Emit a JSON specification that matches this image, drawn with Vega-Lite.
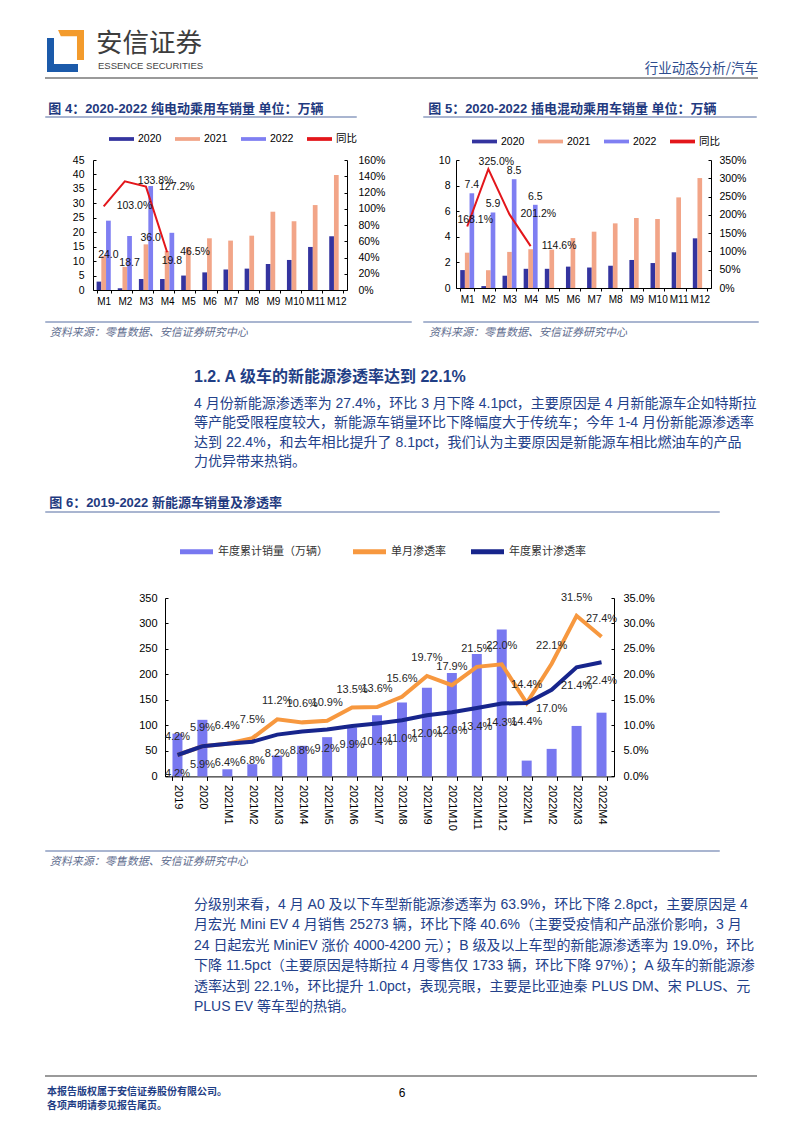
{
"$schema": "https://vega.github.io/schema/vega-lite/v6.json",
"background": "white",
"padding": {"left": 45, "top": 30, "right": 5, "bottom": 5},
"bounds": "flush",
"spacing": 0,
"resolve": {"scale": {"color": "independent", "xOffset": "independent"}, "legend": {"color": "independent"}},
"config": {
  "view": {"stroke": null},
  "concat": {"spacing": 0},
  "axis": {"grid": false, "labelFont": "Liberation Sans", "labelColor": "#000000", "domainColor": "#000000", "tickColor": "#000000", "domainWidth": 1, "tickWidth": 1, "labelOverlap": false},
  "legend": {"labelFont": "Liberation Sans, Noto Sans CJK SC", "labelColor": "#000000"}
},
"vconcat": [
  {"bounds": "flush", "spacing": 0, "hconcat": [
    {"width": 38, "height": 42, "data": {"values": [{}]}, "layer": [
      {"mark": {"type": "point", "shape": "M-0.857,-0.619H-0.524V0.619H0.619V1H-0.857Z", "size": 1764, "filled": true, "color": "#1B5AAA", "strokeWidth": 0, "opacity": 1}, "encoding": {}},
      {"mark": {"type": "point", "shape": "M-0.33,-1H0.905V0.43H0.571V-0.70H-0.2Z", "size": 1764, "filled": true, "color": "#F39B2C", "strokeWidth": 0, "opacity": 1}, "encoding": {}}
    ]},
    {"width": 24, "height": 28, "data": {"values": [{}]}, "layer": [
      {"mark": {"type": "text", "text": "安信证券", "align": "left", "baseline": "middle", "font": "Noto Sans CJK SC", "fontSize": 26.5, "color": "#3d3d3d"}, "encoding": {}},
      {"mark": {"type": "text", "text": "ESSENCE SECURITIES", "align": "left", "baseline": "middle", "dx": 2, "dy": 22, "font": "Liberation Sans Narrow, Liberation Sans", "fontSize": 9.5, "color": "#444444"}, "encoding": {}}
    ]},
    {"width": 646, "height": 1, "data": {"values": []}, "mark": "point", "encoding": {}},
    {"width": 8, "height": 42, "data": {"values": [{}]}, "mark": {"type": "text", "text": "行业动态分析/汽车", "align": "right", "baseline": "middle", "dy": 17.7, "font": "Noto Sans CJK SC", "fontSize": 13.5, "color": "#2E4C8E"}, "encoding": {}}
  ]},
  {"width": 1, "height": 47.5, "data": {"values": []}, "mark": "point", "encoding": {}},
  {"width": 711, "height": 0.01, "view": {"stroke": "#9a9a9a", "strokeWidth": 2}, "data": {"values": []}, "mark": "point", "encoding": {}},
  {"width": 1, "height": 28.99, "data": {"values": []}, "mark": "point", "encoding": {}},
  {"bounds": "flush", "spacing": 0, "resolve": {"scale": {"color": "independent", "xOffset": "independent"}, "legend": {"color": "independent"}}, "hconcat": [
    {"bounds": "flush", "spacing": 0, "resolve": {"scale": {"color": "independent", "xOffset": "independent"}, "legend": {"color": "independent"}}, "vconcat": [
      {"width": 4.6, "height": 2, "data": {"values": [{}]}, "mark": {"type": "text", "text": "图 4：2020-2022 纯电动乘用车销量 单位：万辆", "align": "left", "baseline": "middle", "font": "Liberation Sans, Noto Sans CJK SC", "fontSize": 13, "fontWeight": "bold", "color": "#1F3A80"}, "encoding": {}},
      {"width": 1, "height": 7, "data": {"values": []}, "mark": "point", "encoding": {}},
      {"width": 310, "height": 0.01, "view": {"stroke": "#8C9DC0", "strokeWidth": 1.5}, "data": {"values": []}, "mark": "point", "encoding": {}},
      {"width": 1, "height": 41.5, "data": {"values": []}, "mark": "point", "encoding": {}},
      {"bounds": "flush", "spacing": 0, "resolve": {"scale": {"color": "independent", "xOffset": "independent"}, "legend": {"color": "independent"}}, "hconcat": [
        {"width": 46.7, "height": 1, "data": {"values": []}, "mark": "point", "encoding": {}},
        {"width": 254, "height": 130,
         "data": {"values": [
          {"month":"M1","series":"2020","value":2.9},{"month":"M2","series":"2020","value":0.6},{"month":"M3","series":"2020","value":3.8},{"month":"M4","series":"2020","value":3.8},{"month":"M5","series":"2020","value":5.0},{"month":"M6","series":"2020","value":6.1},{"month":"M7","series":"2020","value":7.1},{"month":"M8","series":"2020","value":7.4},{"month":"M9","series":"2020","value":9.0},{"month":"M10","series":"2020","value":10.4},{"month":"M11","series":"2020","value":14.9},{"month":"M12","series":"2020","value":18.6},
          {"month":"M1","series":"2021","value":11.8},{"month":"M2","series":"2021","value":8.0},{"month":"M3","series":"2021","value":15.8},{"month":"M4","series":"2021","value":13.5},{"month":"M5","series":"2021","value":14.8},{"month":"M6","series":"2021","value":17.9},{"month":"M7","series":"2021","value":17.1},{"month":"M8","series":"2021","value":18.8},{"month":"M9","series":"2021","value":27.1},{"month":"M10","series":"2021","value":23.8},{"month":"M11","series":"2021","value":29.4},{"month":"M12","series":"2021","value":39.8},
          {"month":"M1","series":"2022","value":24.0},{"month":"M2","series":"2022","value":18.7},{"month":"M3","series":"2022","value":36.0},{"month":"M4","series":"2022","value":19.8},
          {"month":"M1","series":"同比","value":1.030},{"month":"M2","series":"同比","value":1.338},{"month":"M3","series":"同比","value":1.272},{"month":"M4","series":"同比","value":0.465}
         ]},
         "layer": [
          {"transform": [{"filter": "datum.series != '同比'"}],
           "mark": {"type": "bar"},
           "encoding": {
            "x": {"field": "month", "type": "nominal", "scale": {"domain": ["M1","M2","M3","M4","M5","M6","M7","M8","M9","M10","M11","M12"], "paddingInner": 0.33, "paddingOuter": 0.17}, "axis": {"title": null, "labelAngle": 0, "labelFontSize": 10, "labelPadding": 3, "tickSize": 3, "tickBand": "extent", "labelOverlap": false}},
            "xOffset": {"field": "series", "type": "nominal", "scale": {"domain": ["2020","2021","2022"]}},
            "y": {"field": "value", "type": "quantitative", "scale": {"domain": [0, 45]}, "axis": {"title": null, "values": [0,5,10,15,20,25,30,35,40,45], "labelFontSize": 10.5, "tickSize": -3, "labelPadding": 12, "labelOverlap": false}},
            "color": {"field": "series", "type": "nominal", "scale": {"domain": ["2020","2021","2022","同比"], "range": ["#34349F","#F2A588","#7F7FF2","#E3161B"]},
              "legend": {"orient": "none", "legendX": 16, "legendY": -33.5, "direction": "horizontal", "columns": 4, "title": null, "symbolSize": 625, "symbolType": "M-1,-0.15H1V0.15H-1Z", "symbolStrokeWidth": 0, "labelFontSize": 10.5, "labelOffset": 4, "columnPadding": 13}}
           }},
          {"transform": [{"filter": "datum.series == '2022'"}, {"calculate": "datum.value / 2", "as": "mid"}],
           "mark": {"type": "text", "fontSize": 10.5, "font": "Liberation Sans", "color": "#111111", "baseline": "middle"},
           "encoding": {
            "x": {"field": "month", "type": "nominal"},
            "xOffset": {"field": "series", "type": "nominal"},
            "y": {"field": "mid", "type": "quantitative", "scale": {"domain": [0, 45]}, "axis": null},
            "text": {"field": "value", "type": "quantitative", "format": ".1f"}
           }},
          {"transform": [{"filter": "datum.series == '同比'"}],
           "mark": {"type": "line", "strokeWidth": 2},
           "encoding": {
            "x": {"field": "month", "type": "nominal"},
            "y": {"field": "value", "type": "quantitative", "scale": {"domain": [0, 1.6]}, "axis": {"title": null, "orient": "right", "values": [0,0.2,0.4,0.6,0.8,1.0,1.2,1.4,1.6], "format": ".0%", "labelFontSize": 10.5, "tickSize": -3, "labelPadding": 14, "labelOverlap": false}},
            "color": {"field": "series", "type": "nominal"}
           }},
          {"transform": [{"filter": "datum.series == '同比'"}],
           "mark": {"type": "text", "align": "left", "baseline": "middle", "dx": 13, "fontSize": 10.5, "font": "Liberation Sans", "color": "#111111"},
           "encoding": {
            "x": {"field": "month", "type": "nominal"},
            "y": {"field": "value", "type": "quantitative", "scale": {"domain": [0, 1.6]}, "axis": null},
            "text": {"field": "value", "type": "quantitative", "format": ".1%"}
           }}
         ],
         "resolve": {"scale": {"y": "independent"}}
        }
      ]},
      {"width": 1, "height": 162, "data": {"values": []}, "mark": "point", "encoding": {}},
      {"width": 365, "height": 0.01, "view": {"stroke": "#8C9DC0", "strokeWidth": 1.5}, "data": {"values": []}, "mark": "point", "encoding": {}},
      {"width": 1, "height": 8.3, "data": {"values": []}, "mark": "point", "encoding": {}},
      {"width": 7.6, "height": 2, "data": {"values": [{}]}, "mark": {"type": "text", "text": "资料来源：零售数据、安信证券研究中心", "align": "left", "baseline": "middle", "font": "Noto Sans CJK SC", "fontSize": 11, "fontStyle": "italic", "color": "#5E6C8E"}, "encoding": {}}
    ]},
    {"width": 378, "height": 1, "data": {"values": []}, "mark": "point", "encoding": {}},
    {"bounds": "flush", "spacing": 0, "resolve": {"scale": {"color": "independent", "xOffset": "independent"}, "legend": {"color": "independent"}}, "vconcat": [
      {"width": 8.6, "height": 2, "data": {"values": [{}]}, "mark": {"type": "text", "text": "图 5：2020-2022 插电混动乘用车销量 单位：万辆", "align": "left", "baseline": "middle", "font": "Liberation Sans, Noto Sans CJK SC", "fontSize": 13, "fontWeight": "bold", "color": "#1F3A80"}, "encoding": {}},
      {"width": 1, "height": 7, "data": {"values": []}, "mark": "point", "encoding": {}},
      {"width": 332, "height": 0.01, "view": {"stroke": "#8C9DC0", "strokeWidth": 1.5}, "data": {"values": []}, "mark": "point", "encoding": {}},
      {"width": 1, "height": 42, "data": {"values": []}, "mark": "point", "encoding": {}},
      {"bounds": "flush", "spacing": 0, "resolve": {"scale": {"color": "independent", "xOffset": "independent"}, "legend": {"color": "independent"}}, "hconcat": [
        {"width": 32, "height": 1, "data": {"values": []}, "mark": "point", "encoding": {}},
        {"width": 255, "height": 128,
         "data": {"values": [
          {"month":"M1","series":"2020","value":1.4},{"month":"M2","series":"2020","value":0.15},{"month":"M3","series":"2020","value":0.96},{"month":"M4","series":"2020","value":1.5},{"month":"M5","series":"2020","value":1.5},{"month":"M6","series":"2020","value":1.67},{"month":"M7","series":"2020","value":1.6},{"month":"M8","series":"2020","value":1.74},{"month":"M9","series":"2020","value":2.19},{"month":"M10","series":"2020","value":1.95},{"month":"M11","series":"2020","value":2.79},{"month":"M12","series":"2020","value":3.88},
          {"month":"M1","series":"2021","value":2.76},{"month":"M2","series":"2021","value":1.39},{"month":"M3","series":"2021","value":2.82},{"month":"M4","series":"2021","value":3.03},{"month":"M5","series":"2021","value":3.0},{"month":"M6","series":"2021","value":3.9},{"month":"M7","series":"2021","value":4.4},{"month":"M8","series":"2021","value":5.05},{"month":"M9","series":"2021","value":5.47},{"month":"M10","series":"2021","value":5.39},{"month":"M11","series":"2021","value":7.08},{"month":"M12","series":"2021","value":8.59},
          {"month":"M1","series":"2022","value":7.4},{"month":"M2","series":"2022","value":5.9},{"month":"M3","series":"2022","value":8.5},{"month":"M4","series":"2022","value":6.5},
          {"month":"M1","series":"同比","value":1.681},{"month":"M2","series":"同比","value":3.250},{"month":"M3","series":"同比","value":2.012},{"month":"M4","series":"同比","value":1.146}
         ]},
         "layer": [
          {"transform": [{"filter": "datum.series != '同比'"}],
           "mark": {"type": "bar"},
           "encoding": {
            "x": {"field": "month", "type": "nominal", "scale": {"domain": ["M1","M2","M3","M4","M5","M6","M7","M8","M9","M10","M11","M12"], "paddingInner": 0.34, "paddingOuter": 0.2}, "axis": {"title": null, "labelAngle": 0, "labelFontSize": 10, "labelPadding": 3, "tickSize": 3, "tickBand": "extent", "labelOverlap": false}},
            "xOffset": {"field": "series", "type": "nominal", "scale": {"domain": ["2020","2021","2022"]}},
            "y": {"field": "value", "type": "quantitative", "scale": {"domain": [0, 10]}, "axis": {"title": null, "values": [0,2,4,6,8,10], "labelFontSize": 10.5, "tickSize": -3, "labelPadding": 9, "labelOverlap": false}},
            "color": {"field": "series", "type": "nominal", "scale": {"domain": ["2020","2021","2022","同比"], "range": ["#34349F","#F2A588","#7F7FF2","#E3161B"]},
              "legend": {"orient": "none", "legendX": 16, "legendY": -31, "direction": "horizontal", "columns": 4, "title": null, "symbolSize": 625, "symbolType": "M-1,-0.15H1V0.15H-1Z", "symbolStrokeWidth": 0, "labelFontSize": 10.5, "labelOffset": 4, "columnPadding": 13}}
           }},
          {"transform": [{"filter": "datum.series == '2022'"}],
           "mark": {"type": "text", "fontSize": 10.5, "font": "Liberation Sans", "color": "#111111", "baseline": "bottom", "dy": -3},
           "encoding": {
            "x": {"field": "month", "type": "nominal"},
            "xOffset": {"field": "series", "type": "nominal"},
            "y": {"field": "value", "type": "quantitative", "scale": {"domain": [0, 10]}, "axis": null},
            "text": {"field": "value", "type": "quantitative", "format": ".1f"}
           }},
          {"transform": [{"filter": "datum.series == '同比'"}],
           "mark": {"type": "line", "strokeWidth": 2},
           "encoding": {
            "x": {"field": "month", "type": "nominal"},
            "y": {"field": "value", "type": "quantitative", "scale": {"domain": [0, 3.5]}, "axis": {"title": null, "orient": "right", "values": [0,0.5,1.0,1.5,2.0,2.5,3.0,3.5], "format": ".0%", "labelFontSize": 10.5, "tickSize": -3, "labelPadding": 11, "labelOverlap": false}},
            "color": {"field": "series", "type": "nominal"}
           }},
          {"transform": [{"filter": "datum.series == '同比' && (datum.month == 'M1' || datum.month == 'M2')"}],
           "mark": {"type": "text", "align": "center", "baseline": "middle", "dx": 8, "dy": -7, "fontSize": 10.5, "font": "Liberation Sans", "color": "#111111"},
           "encoding": {
            "x": {"field": "month", "type": "nominal"},
            "y": {"field": "value", "type": "quantitative", "scale": {"domain": [0, 3.5]}, "axis": null},
            "text": {"field": "value", "type": "quantitative", "format": ".1%"}
           }},
          {"transform": [{"filter": "datum.series == '同比' && (datum.month == 'M3' || datum.month == 'M4')"}],
           "mark": {"type": "text", "align": "left", "baseline": "middle", "dx": 11, "fontSize": 10.5, "font": "Liberation Sans", "color": "#111111"},
           "encoding": {
            "x": {"field": "month", "type": "nominal"},
            "y": {"field": "value", "type": "quantitative", "scale": {"domain": [0, 3.5]}, "axis": null},
            "text": {"field": "value", "type": "quantitative", "format": ".1%"}
           }}
         ],
         "resolve": {"scale": {"y": "independent"}}
        }
      ]},
      {"width": 1, "height": 161.5, "data": {"values": []}, "mark": "point", "encoding": {}},
      {"width": 334, "height": 0.01, "view": {"stroke": "#8C9DC0", "strokeWidth": 1.5}, "data": {"values": []}, "mark": "point", "encoding": {}},
      {"width": 1, "height": 8.3, "data": {"values": []}, "mark": "point", "encoding": {}},
      {"width": 10, "height": 2, "data": {"values": [{}]}, "mark": {"type": "text", "text": "资料来源：零售数据、安信证券研究中心", "align": "left", "baseline": "middle", "font": "Noto Sans CJK SC", "fontSize": 11, "fontStyle": "italic", "color": "#5E6C8E"}, "encoding": {}}
    ]}
  ]},
  {"width": 1, "height": 267.5, "data": {"values": []}, "mark": "point", "encoding": {}},
  {"width": 296, "height": 2, "data": {"values": [{}]}, "mark": {"type": "text", "text": "1.2. A 级车的新能源渗透率达到 22.1%", "align": "left", "baseline": "middle", "font": "Liberation Sans, Noto Sans CJK SC", "fontSize": 16, "fontWeight": "bold", "color": "#1F3E85"}, "encoding": {}},
  {"width": 1, "height": 17.3, "data": {"values": []}, "mark": "point", "encoding": {}},
  {"width": 296, "height": 2, "data": {"values": [{}]}, "mark": {"type": "text", "text": [
     "4 月份新能源渗透率为 27.4%，环比 3 月下降 4.1pct，主要原因是 4 月新能源车企如特斯拉",
     "等产能受限程度较大，新能源车销量环比下降幅度大于传统车；今年 1-4 月份新能源渗透率",
     "达到 22.4%，和去年相比提升了 8.1pct，我们认为主要原因是新能源车相比燃油车的产品",
     "力优异带来热销。"], "align": "left", "baseline": "top", "lineHeight": 19.4, "font": "Liberation Sans, Noto Sans CJK SC", "fontSize": 14, "color": "#23418A"}, "encoding": {}},
  {"width": 1, "height": 103.7, "data": {"values": []}, "mark": "point", "encoding": {}},
  {"bounds": "flush", "spacing": 0, "resolve": {"scale": {"color": "independent", "xOffset": "independent"}, "legend": {"color": "independent"}}, "vconcat": [
    {"width": 6.6, "height": 2, "data": {"values": [{}]}, "mark": {"type": "text", "text": "图 6：2019-2022 新能源车销量及渗透率", "align": "left", "baseline": "middle", "font": "Liberation Sans, Noto Sans CJK SC", "fontSize": 13, "fontWeight": "bold", "color": "#1F3A80"}, "encoding": {}},
    {"width": 1, "height": 8, "data": {"values": []}, "mark": "point", "encoding": {}},
    {"width": 673, "height": 0.01, "view": {"stroke": "#8C9DC0", "strokeWidth": 1.5}, "data": {"values": []}, "mark": "point", "encoding": {}},
    {"width": 1, "height": 84.3, "data": {"values": []}, "mark": "point", "encoding": {}},
    {"bounds": "flush", "spacing": 0, "resolve": {"scale": {"color": "independent", "xOffset": "independent"}, "legend": {"color": "independent"}}, "hconcat": [
      {"width": 118.3, "height": 1, "data": {"values": []}, "mark": "point", "encoding": {}},
      {"width": 449, "height": 178.4,
       "data": {"values": [
        {"period":"2019","series":"年度累计销量（万辆）","value":84},{"period":"2020","series":"年度累计销量（万辆）","value":111},{"period":"2021M1","series":"年度累计销量（万辆）","value":14},{"period":"2021M2","series":"年度累计销量（万辆）","value":24},{"period":"2021M3","series":"年度累计销量（万辆）","value":41},{"period":"2021M4","series":"年度累计销量（万辆）","value":60},{"period":"2021M5","series":"年度累计销量（万辆）","value":77},{"period":"2021M6","series":"年度累计销量（万辆）","value":96},{"period":"2021M7","series":"年度累计销量（万辆）","value":120},{"period":"2021M8","series":"年度累计销量（万辆）","value":145},{"period":"2021M9","series":"年度累计销量（万辆）","value":174},{"period":"2021M10","series":"年度累计销量（万辆）","value":203},{"period":"2021M11","series":"年度累计销量（万辆）","value":240},{"period":"2021M12","series":"年度累计销量（万辆）","value":288},{"period":"2022M1","series":"年度累计销量（万辆）","value":31},{"period":"2022M2","series":"年度累计销量（万辆）","value":54},{"period":"2022M3","series":"年度累计销量（万辆）","value":99},{"period":"2022M4","series":"年度累计销量（万辆）","value":125},
        {"period":"2019","series":"单月渗透率","value":0.042},{"period":"2020","series":"单月渗透率","value":0.059},{"period":"2021M1","series":"单月渗透率","value":0.064},{"period":"2021M2","series":"单月渗透率","value":0.075},{"period":"2021M3","series":"单月渗透率","value":0.112},{"period":"2021M4","series":"单月渗透率","value":0.106},{"period":"2021M5","series":"单月渗透率","value":0.109},{"period":"2021M6","series":"单月渗透率","value":0.135},{"period":"2021M7","series":"单月渗透率","value":0.136},{"period":"2021M8","series":"单月渗透率","value":0.156},{"period":"2021M9","series":"单月渗透率","value":0.197},{"period":"2021M10","series":"单月渗透率","value":0.179},{"period":"2021M11","series":"单月渗透率","value":0.215},{"period":"2021M12","series":"单月渗透率","value":0.220},{"period":"2022M1","series":"单月渗透率","value":0.144},{"period":"2022M2","series":"单月渗透率","value":0.221},{"period":"2022M3","series":"单月渗透率","value":0.315},{"period":"2022M4","series":"单月渗透率","value":0.274},
        {"period":"2019","series":"年度累计渗透率","value":0.042},{"period":"2020","series":"年度累计渗透率","value":0.059},{"period":"2021M1","series":"年度累计渗透率","value":0.064},{"period":"2021M2","series":"年度累计渗透率","value":0.068},{"period":"2021M3","series":"年度累计渗透率","value":0.082},{"period":"2021M4","series":"年度累计渗透率","value":0.088},{"period":"2021M5","series":"年度累计渗透率","value":0.092},{"period":"2021M6","series":"年度累计渗透率","value":0.099},{"period":"2021M7","series":"年度累计渗透率","value":0.104},{"period":"2021M8","series":"年度累计渗透率","value":0.110},{"period":"2021M9","series":"年度累计渗透率","value":0.120},{"period":"2021M10","series":"年度累计渗透率","value":0.126},{"period":"2021M11","series":"年度累计渗透率","value":0.134},{"period":"2021M12","series":"年度累计渗透率","value":0.143},{"period":"2022M1","series":"年度累计渗透率","value":0.144},{"period":"2022M2","series":"年度累计渗透率","value":0.170},{"period":"2022M3","series":"年度累计渗透率","value":0.214},{"period":"2022M4","series":"年度累计渗透率","value":0.224}
       ]},
       "layer": [
        {"transform": [{"filter": "datum.series == '年度累计销量（万辆）'"}],
         "mark": {"type": "bar"},
         "encoding": {
          "x": {"field": "period", "type": "nominal", "scale": {"domain": ["2019","2020","2021M1","2021M2","2021M3","2021M4","2021M5","2021M6","2021M7","2021M8","2021M9","2021M10","2021M11","2021M12","2022M1","2022M2","2022M3","2022M4"], "paddingInner": 0.6, "paddingOuter": 0.3}, "axis": {"title": null, "labelAngle": 90, "labelFontSize": 11, "labelPadding": 4, "tickSize": 4, "tickBand": "extent", "labelOverlap": false}},
          "y": {"field": "value", "type": "quantitative", "scale": {"domain": [0, 350]}, "axis": {"title": null, "values": [0,50,100,150,200,250,300,350], "labelFontSize": 11, "tickSize": -3, "labelPadding": 11, "labelOverlap": false}},
          "color": {"field": "series", "type": "nominal", "scale": {"domain": ["年度累计销量（万辆）","单月渗透率","年度累计渗透率"], "range": ["#7878F0","#F7983F","#17258C"]},
            "legend": {"orient": "none", "legendX": 15, "legendY": -63, "direction": "horizontal", "columns": 3, "title": null, "symbolSize": 1089, "symbolType": "M-1,-0.15H1V0.15H-1Z", "symbolStrokeWidth": 0, "labelFont": "Noto Sans CJK SC", "labelFontSize": 11, "labelColor": "#333333", "labelOffset": 5, "columnPadding": 25}}
         }},
        {"transform": [{"filter": "datum.series == '单月渗透率'"}],
         "mark": {"type": "line", "strokeWidth": 4},
         "encoding": {
          "x": {"field": "period", "type": "nominal"},
          "y": {"field": "value", "type": "quantitative", "scale": {"domain": [0, 0.35]}, "axis": {"title": null, "orient": "right", "values": [0,0.05,0.1,0.15,0.2,0.25,0.3,0.35], "format": ".1%", "labelFontSize": 11, "tickSize": -3, "labelPadding": 12, "labelOverlap": false}},
          "color": {"field": "series", "type": "nominal"}
         }},
        {"transform": [{"filter": "datum.series == '年度累计渗透率'"}],
         "mark": {"type": "line", "strokeWidth": 4},
         "encoding": {
          "x": {"field": "period", "type": "nominal"},
          "y": {"field": "value", "type": "quantitative", "scale": {"domain": [0, 0.35]}, "axis": null},
          "color": {"field": "series", "type": "nominal"}
         }},
        {"transform": [{"filter": "datum.series == '单月渗透率'"}],
         "mark": {"type": "text", "align": "center", "baseline": "middle", "dy": -18, "fontSize": 11, "font": "Liberation Sans", "color": "#262626"},
         "encoding": {
          "x": {"field": "period", "type": "nominal"},
          "y": {"field": "value", "type": "quantitative", "scale": {"domain": [0, 0.35]}, "axis": null},
          "text": {"field": "value", "type": "quantitative", "format": ".1%"}
         }},
        {"transform": [{"filter": "datum.series == '年度累计渗透率'"}],
         "mark": {"type": "text", "align": "center", "baseline": "middle", "dy": 19, "fontSize": 11, "font": "Liberation Sans", "color": "#262626"},
         "encoding": {
          "x": {"field": "period", "type": "nominal"},
          "y": {"field": "value", "type": "quantitative", "scale": {"domain": [0, 0.35]}, "axis": null},
          "text": {"field": "value", "type": "quantitative", "format": ".1%"}
         }}
       ],
       "resolve": {"scale": {"y": "independent"}}
      }
    ]},
    {"width": 1, "height": 252.7, "data": {"values": []}, "mark": "point", "encoding": {}},
    {"width": 673, "height": 0.01, "view": {"stroke": "#8C9DC0", "strokeWidth": 1.5}, "data": {"values": []}, "mark": "point", "encoding": {}},
    {"width": 1, "height": 9, "data": {"values": []}, "mark": "point", "encoding": {}},
    {"width": 7.4, "height": 2, "data": {"values": [{}]}, "mark": {"type": "text", "text": "资料来源：零售数据、安信证券研究中心", "align": "left", "baseline": "middle", "font": "Noto Sans CJK SC", "fontSize": 11, "fontStyle": "italic", "color": "#5E6C8E"}, "encoding": {}}
  ]},
  {"width": 1, "height": 394.3, "data": {"values": []}, "mark": "point", "encoding": {}},
  {"width": 296, "height": 2, "data": {"values": [{}]}, "mark": {"type": "text", "text": [
     "分级别来看，4 月 A0 及以下车型新能源渗透率为 63.9%，环比下降 2.8pct，主要原因是 4",
     "月宏光 Mini EV 4 月销售 25273 辆，环比下降 40.6%（主要受疫情和产品涨价影响，3 月",
     "24 日起宏光 MiniEV 涨价 4000-4200 元）；B 级及以上车型的新能源渗透率为 19.0%，环比",
     "下降 11.5pct（主要原因是特斯拉 4 月零售仅 1733 辆，环比下降 97%）；A 级车的新能源渗",
     "透率达到 22.1%，环比提升 1.0pct，表现亮眼，主要是比亚迪秦 PLUS DM、宋 PLUS、元",
     "PLUS EV 等车型的热销。"], "align": "left", "baseline": "top", "lineHeight": 20.4, "font": "Liberation Sans, Noto Sans CJK SC", "fontSize": 14, "color": "#23418A"}, "encoding": {}},
  {"width": 1, "height": 177, "data": {"values": []}, "mark": "point", "encoding": {}},
  {"width": 710, "height": 0.01, "view": {"stroke": "#9a9a9a", "strokeWidth": 2}, "data": {"values": []}, "mark": "point", "encoding": {}},
  {"width": 1, "height": 13.39, "data": {"values": []}, "mark": "point", "encoding": {}},
  {"bounds": "flush", "spacing": 0, "hconcat": [
    {"width": 2, "height": 2, "data": {"values": [{}]}, "layer": [
      {"mark": {"type": "text", "text": "本报告版权属于安信证券股份有限公司。", "align": "left", "baseline": "middle", "font": "Noto Sans CJK SC", "fontSize": 10, "fontWeight": "bold", "color": "#1F3E85"}, "encoding": {}},
      {"mark": {"type": "text", "text": "各项声明请参见报告尾页。", "align": "left", "baseline": "middle", "dy": 14.3, "font": "Noto Sans CJK SC", "fontSize": 10, "fontWeight": "bold", "color": "#1F3E85"}, "encoding": {}}
    ]},
    {"width": 352.5, "height": 1, "data": {"values": []}, "mark": "point", "encoding": {}},
    {"width": 2, "height": 2, "data": {"values": [{}]}, "mark": {"type": "text", "text": "6", "align": "center", "baseline": "middle", "dy": 1.3, "font": "Liberation Sans", "fontSize": 12, "color": "#000000"}, "encoding": {}}
  ]}
]
}
